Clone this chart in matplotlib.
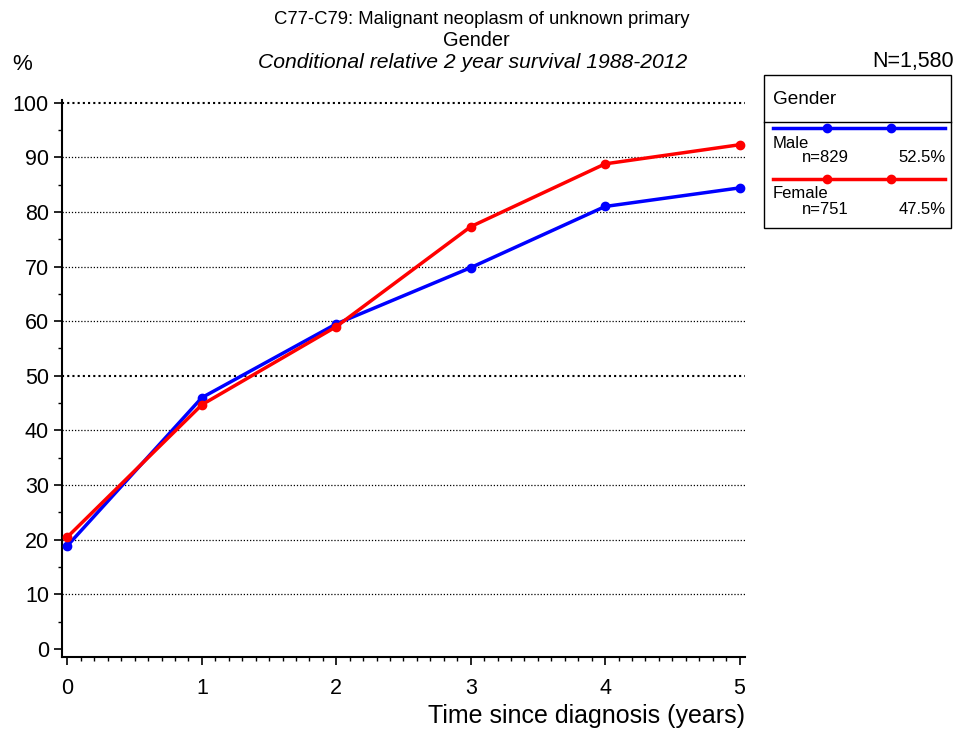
import matplotlib.pyplot as plt
from matplotlib.patches import Rectangle
from matplotlib.lines import Line2D
from matplotlib.ticker import MultipleLocator

plt.rcParams['font.family'] = ['Liberation Sans', 'DejaVu Sans']

years = [0, 1, 2, 3, 4, 5]
male = [18.9, 46.0, 59.5, 69.8, 81.0, 84.4]
female = [20.5, 44.7, 59.0, 77.3, 88.8, 92.3]
groups = ["Male", "Female"]
counts = ["n=829", "n=751"]
shares = ["52.5%", "47.5%"]
colors = ["#0000ff", "#ff0000"]

W, H = 955, 735
fig = plt.figure(figsize=(9.55, 7.35), dpi=100)
ax = fig.add_axes([0.065, 0.106, 0.715, 0.758])

# grid lines
for y in range(10, 101, 10):
    lw = 1.5 if y in (50, 100) else 0.9
    ax.axhline(y, color="black", linestyle=(0, (1, 1.5)), linewidth=lw, zorder=1)

for vals, c in zip([male, female], colors):
    ax.plot(years, vals, color=c, linewidth=2.5, marker="o", markersize=6, zorder=3)

ax.set_xlim(-0.04, 5.04)
ax.set_ylim(-1.5, 100.5)
ax.set_yticks(range(0, 101, 10))
ax.set_xticks(years)
ax.yaxis.set_minor_locator(MultipleLocator(5))
ax.xaxis.set_minor_locator(MultipleLocator(0.1))
ax.tick_params(axis="both", which="major", labelsize=15.5, length=6, width=1.2)
ax.tick_params(axis="both", which="minor", length=3, width=1.0)
ax.tick_params(axis="x", pad=9)
for s in ["top", "right"]:
    ax.spines[s].set_visible(False)
for s in ["left", "bottom"]:
    ax.spines[s].set_linewidth(1.5)

ax.set_xlabel("Time since diagnosis (years)", fontsize=18, loc="right", labelpad=4)


def fy(py):
    return 1 - py / H


fig.text(482 / W, fy(20), "C77-C79: Malignant neoplasm of unknown primary", ha="center",
         va="center", fontsize=13.3)
fig.text(476 / W, fy(40), "Gender", ha="center", va="center", fontsize=14.4)
fig.text(473 / W, fy(62), "Conditional relative 2 year survival 1988-2012", ha="center",
         va="center", fontsize=15.2, style="italic")
fig.text(12 / W, fy(64), "%", va="center", fontsize=16)
fig.text(954 / W, fy(62), "N=1,580", ha="right", va="center", fontsize=15.5)

# legend box
lx0, lx1 = 764 / W, 951 / W
fig.patches.append(Rectangle((lx0, fy(228)), lx1 - lx0, fy(75) - fy(228), transform=fig.transFigure,
                             fill=False, edgecolor="black", linewidth=1.0))
fig.lines.append(Line2D([lx0, lx1], [fy(122), fy(122)], transform=fig.transFigure,
                        color="black", linewidth=1.0))
fig.text(773 / W, fy(99), "Gender", va="center", fontsize=13.7)

for i, (g, n, p, c) in enumerate(zip(groups, counts, shares, colors)):
    off = i * 51
    fig.lines.append(Line2D([773 / W, 945 / W], [fy(128 + off), fy(128 + off)],
                            transform=fig.transFigure, color=c, linewidth=2.5))
    fig.lines.append(Line2D([827 / W, 891 / W], [fy(128 + off), fy(128 + off)],
                            transform=fig.transFigure, color=c, linestyle="none",
                            marker="o", markersize=6))
    fig.text(773 / W, fy(143 + off), g, va="center", fontsize=12)
    fig.text(802 / W, fy(158 + off), n, va="center", fontsize=12)
    fig.text(946 / W, fy(158 + off), p, va="center", ha="right", fontsize=12)

fig.savefig("out.png", dpi=100)
